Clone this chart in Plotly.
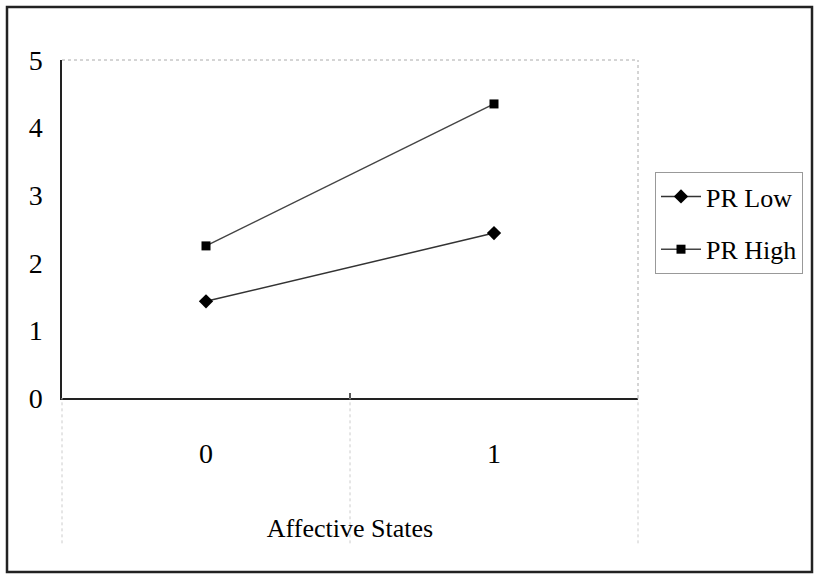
import plotly.graph_objects as go

categories = ["0", "1"]
pr_low = [1.43, 2.44]
pr_high = [2.25, 4.35]
y_ticks = [0, 1, 2, 3, 4, 5]
x_title = "Affective States"

FONT = "Liberation Serif"

fig = go.Figure()
fig.add_trace(go.Scatter(
    x=categories, y=pr_low, name="PR Low", mode="lines+markers", legendgroup="a",
    line=dict(color="#333333", width=1.5),
    marker=dict(symbol="diamond", size=11, color="black"),
))
fig.add_trace(go.Scatter(
    x=categories, y=pr_high, name="PR High", mode="lines+markers", legendgroup="b",
    line=dict(color="#444444", width=1.5),
    marker=dict(symbol="square", size=9, color="black"),
))

fig.update_layout(
    width=814, height=574,
    margin=dict(l=62, r=176, t=60, b=176),
    paper_bgcolor="white", plot_bgcolor="white",
    font=dict(family=FONT, size=26, color="black"),
    showlegend=True,
    legend=dict(
        xref="container", yref="container",
        x=655 / 814, y=1 - 172 / 574, xanchor="left", yanchor="top",
        bordercolor="#999999", borderwidth=1,
        font=dict(family=FONT, size=26),
        tracegroupgap=16, itemwidth=40,
    ),
    xaxis=dict(
        type="category", range=[-0.5, 1.5],
        showgrid=False, zeroline=False,
        showline=True, linecolor="#222222", linewidth=1.5,
        ticks="", ticklabelstandoff=30,
        tickfont=dict(family=FONT, size=28),
        title=dict(text=x_title, font=dict(family=FONT, size=26), standoff=50),
    ),
    yaxis=dict(
        range=[0, 5], tickvals=y_ticks,
        showgrid=False, zeroline=False,
        showline=True, linecolor="#222222", linewidth=1.5,
        ticks="", ticklabelstandoff=12,
        tickfont=dict(family=FONT, size=28),
    ),
)

# plot frame (faint top/right), dotted guides below the axis, outer border
fig.add_shape(type="line", xref="x domain", yref="y domain", x0=0, x1=1, y0=1, y1=1,
              line=dict(color="#aaaaaa", width=1, dash="dot"))
fig.add_shape(type="line", xref="x domain", yref="y domain", x0=1, x1=1, y0=0, y1=1,
              line=dict(color="#aaaaaa", width=1, dash="dot"))
for xd in [0, 0.5, 1]:
    fig.add_shape(type="line", xref="x domain", yref="paper", x0=xd, x1=xd,
                  y0=-0.43, y1=0, line=dict(color="#cccccc", width=1, dash="dot"))
fig.add_shape(type="line", xref="x domain", yref="y domain", x0=0.5, x1=0.5,
              y0=0, y1=0.015, line=dict(color="#222222", width=1.5))
fig.add_shape(type="rect", xref="paper", yref="paper",
              x0=-55 / 576, x1=(812 - 62) / 576, y0=-(572 - 398) / 338, y1=(398 - 7) / 338,
              line=dict(color="#222222", width=2.5))

fig.write_html("out.html")
